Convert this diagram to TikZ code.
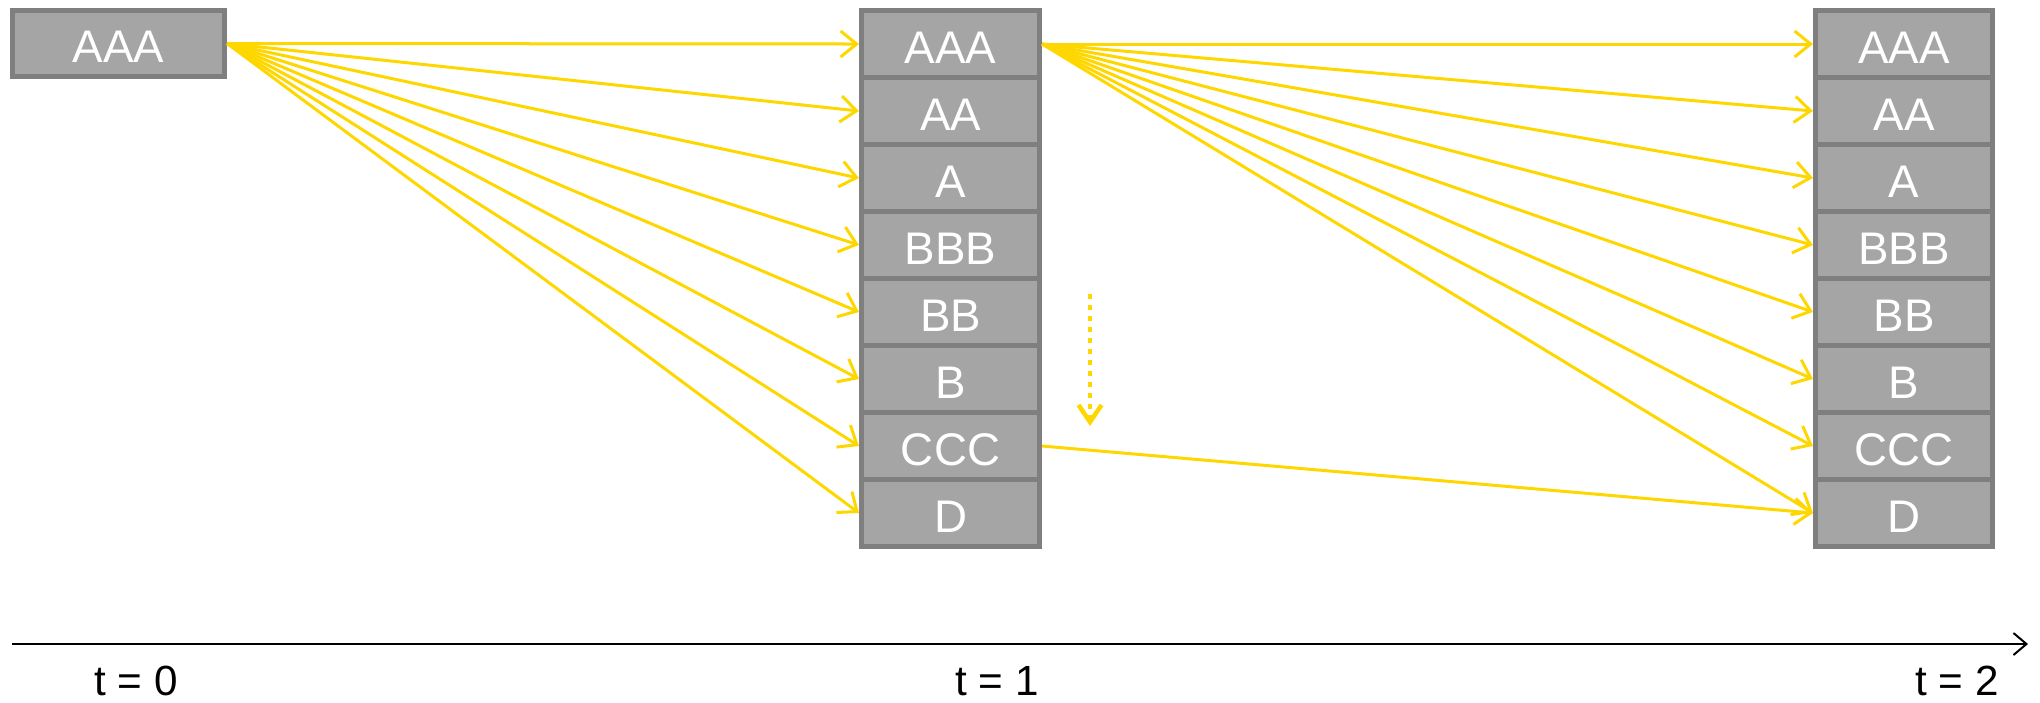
\documentclass[tikz,border=0pt]{standalone}
\usepackage{fontspec}
\setmainfont{Liberation Sans}
\usetikzlibrary{arrows.meta}
\definecolor{cellfill}{HTML}{A5A5A5}
\definecolor{celldraw}{HTML}{7F7F7F}
\definecolor{gold}{RGB}{255,215,0}
\begin{document}
\begin{tikzpicture}[x=0.01cm,y=-0.01cm,
  cell/.style={draw=celldraw,fill=cellfill,line width=0.05cm,minimum height=0.67cm,inner sep=0pt,text=white,text height=0.38cm,text depth=0cm,font=\fontsize{13}{15}\selectfont},
  midcell/.style={cell,minimum width=1.78cm},
  rightcell/.style={cell,minimum width=1.77cm},
  flow/.style={draw=gold,line width=0.03cm,-{Straight Barb[length=0.16cm,width=0.26cm]}},
  dotflow/.style={draw=gold,line width=0.045cm,dash pattern=on 0.045cm off 0.065cm,-{Straight Barb[length=0.17cm,width=0.23cm]}},
  axis/.style={draw=black,line width=0.02cm,-{Straight Barb[length=0.13cm,width=0.22cm]}},
  tlabel/.style={font=\fontsize{12}{14}\selectfont,text=black,inner sep=0pt}]
\useasboundingbox (0,0) rectangle (2040,702);
\node[cell,minimum width=2.12cm,minimum height=0.66cm] (s) at (118.5,43.5) {AAA};
\foreach \lab [count=\i from 0] in {AAA,AA,A,BBB,BB,B,CCC,D} {
  \node[midcell] (m\i) at (950.5,{44+67*\i}) {\lab};
  \node[rightcell] (r\i) at (1904,{44+67*\i}) {\lab};
}
\foreach \i in {0,...,7} {
  \draw[flow] (s.east) -- (m\i.west);
  \draw[flow] (m0.east) -- (r\i.west);
}
\draw[flow] (m6.east) -- (r7.west);
\coordinate (d1) at (1090,294);
\coordinate (d2) at (1090,426);
\draw[dotflow] (d1) -- (d2);
\coordinate (ax0) at (12,644);
\coordinate (ax1) at (2028,644);
\draw[axis] (ax0) -- (ax1);
\node[tlabel] (t0) at (136,681) {t = 0};
\node[tlabel] (t1) at (997,681) {t = 1};
\node[tlabel] (t2) at (1957,681) {t = 2};
\end{tikzpicture}
\end{document}
